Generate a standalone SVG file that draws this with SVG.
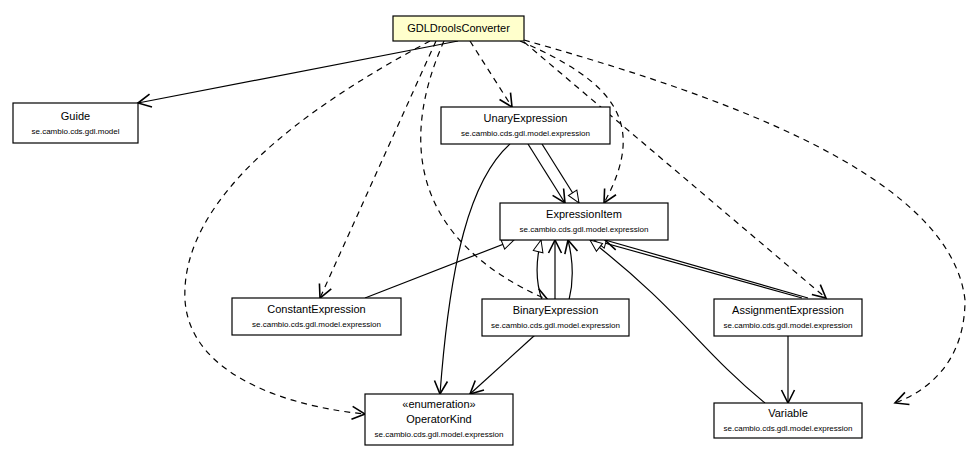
<svg xmlns="http://www.w3.org/2000/svg" width="970" height="456" viewBox="0 0 970 456">
<style>
.n rect{fill:#fff;stroke:#000;stroke-width:1.2}
.t{font-family:"Liberation Sans",Arial,sans-serif;font-size:11px;text-anchor:middle}
.p{font-family:"Liberation Sans",Arial,sans-serif;font-size:8px;text-anchor:middle}
#edges path{fill:none;stroke:#000;stroke-width:1.2}
.d{stroke-dasharray:6,5}
</style>
<defs>
<marker id="a" markerWidth="16" markerHeight="16" refX="14" refY="8" orient="auto" markerUnits="userSpaceOnUse"><path d="M1,1.5 L14,8 L1,14.5" fill="none" stroke="#000" stroke-width="1.6"/></marker>
<marker id="h" markerWidth="16" markerHeight="16" refX="13" refY="8" orient="auto" markerUnits="userSpaceOnUse"><path d="M1,3 L13,8 L1,13 Z" fill="#fff" stroke="#000" stroke-width="1"/></marker>
</defs>
<rect width="970" height="456" fill="#fff"/>
<g id="edges">
<path d="M458,41 L138,103" marker-end="url(#a)"/>
<path class="d" d="M470,41 L512,107" marker-end="url(#a)"/>
<path class="d" d="M520,41 C610,80 650,120 604,203" marker-end="url(#a)"/>
<path class="d" d="M436,41 L320,298" marker-end="url(#a)"/>
<path class="d" d="M444,41 C400,140 410,240 548,300" marker-end="url(#a)"/>
<path class="d" d="M430,41 C300,110 180,200 185,300 C190,380 300,408 365,414" marker-end="url(#a)"/>
<path class="d" d="M524,42 L826,298" marker-end="url(#a)"/>
<path class="d" d="M524,40 C700,90 950,170 965,300 C965,360 930,390 895,403" marker-end="url(#a)"/>
<path d="M528,144 L565,203" marker-end="url(#a)"/>
<path d="M542,144 L579,203" marker-end="url(#h)"/>
<path d="M510,144 C470,180 450,260 440,394" marker-end="url(#a)"/>
<path d="M365,298 L514,240" marker-end="url(#h)"/>
<path d="M542,300 C535,280 536,260 541,240" marker-end="url(#h)"/>
<path d="M555,300 L555,240" marker-end="url(#a)"/>
<path d="M569,300 C574,280 573,260 568,240" marker-end="url(#a)"/>
<path d="M802,298 L594,240" marker-end="url(#h)"/>
<path d="M808,298 L605,240" marker-end="url(#a)"/>
<path d="M765,403 C700,350 680,310 590,240" marker-end="url(#h)"/>
<path d="M535,335 L470,394" marker-end="url(#a)"/>
<path d="M788,336 L788,403" marker-end="url(#a)"/>
</g>
<g id="GDLDroolsConverter" class="n"><rect x="393" y="16" width="131" height="25" style="fill:#ffffcc"/><text class="t" x="458.5" y="32">GDLDroolsConverter</text></g>
<g id="Guide" class="n"><rect x="13" y="103" width="125" height="40"/><text class="t" x="75.5" y="120">Guide</text><text class="p" x="75.5" y="134">se.cambio.cds.gdl.model</text></g>
<g id="UnaryExpression" class="n"><rect x="441" y="107" width="169" height="37"/><text class="t" x="525.5" y="122">UnaryExpression</text><text class="p" x="525.5" y="136">se.cambio.cds.gdl.model.expression</text></g>
<g id="ExpressionItem" class="n"><rect x="500" y="203" width="168" height="37"/><text class="t" x="584" y="218">ExpressionItem</text><text class="p" x="584" y="232">se.cambio.cds.gdl.model.expression</text></g>
<g id="ConstantExpression" class="n"><rect x="232" y="298" width="169" height="37"/><text class="t" x="316.5" y="313">ConstantExpression</text><text class="p" x="316.5" y="327">se.cambio.cds.gdl.model.expression</text></g>
<g id="BinaryExpression" class="n"><rect x="482" y="299" width="147" height="37"/><text class="t" x="555.5" y="314">BinaryExpression</text><text class="p" x="555.5" y="328">se.cambio.cds.gdl.model.expression</text></g>
<g id="AssignmentExpression" class="n"><rect x="714" y="299" width="148" height="37"/><text class="t" x="788" y="314">AssignmentExpression</text><text class="p" x="788" y="328">se.cambio.cds.gdl.model.expression</text></g>
<g id="OperatorKind" class="n"><rect x="365" y="394" width="148" height="51"/><text class="t" x="439" y="408">«enumeration»</text><text class="t" x="439" y="423">OperatorKind</text><text class="p" x="439" y="437">se.cambio.cds.gdl.model.expression</text></g>
<g id="Variable" class="n"><rect x="714" y="403" width="148" height="35"/><text class="t" x="788" y="417">Variable</text><text class="p" x="788" y="431">se.cambio.cds.gdl.model.expression</text></g>
</svg>
